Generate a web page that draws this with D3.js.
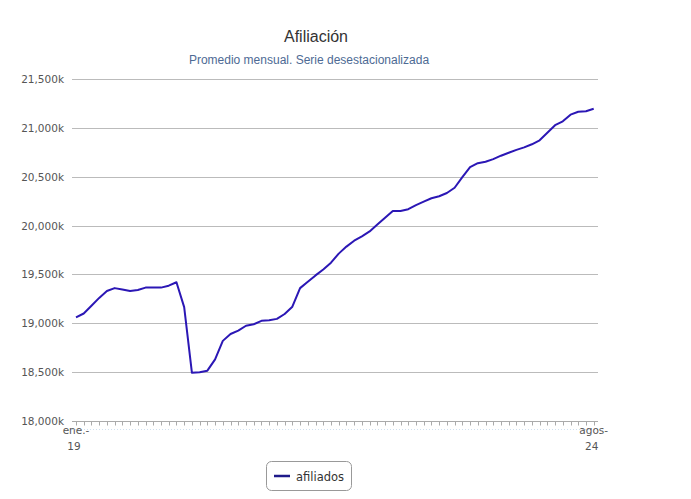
<!DOCTYPE html>
<html><head><meta charset="utf-8">
<script src="https://cdn.jsdelivr.net/npm/d3@7"></script>
<style>body{margin:0;background:#fff}</style>
</head><body><svg id="c" width="691" height="499"></svg>
<script>
const title = "Afiliación";
const subtitle = "Promedio mensual. Serie desestacionalizada";
const seriesName = "afiliados";
const startMonth = [2019, 0];
// thousands, Jan 2019 .. Aug 2024
const afiliados = [
 19060,19100,19180,19260,19330,19360,19345,19330,19340,19365,19365,19365,
 19385,19420,19165,18495,18500,18515,18630,18820,18890,18925,18975,18990,
 19025,19030,19045,19095,19170,19360,19425,19490,19550,19620,19713,19785,
 19845,19890,19940,20010,20080,20150,20150,20168,20210,20245,20280,20300,
 20333,20387,20495,20597,20638,20653,20680,20715,20745,20775,20800,20832,
 20873,20950,21027,21067,21135,21165,21170,21195
];
const yTicks = [18000,18500,19000,19500,20000,20500,21000,21500];
const xLabels = [{i:0, l1:"ene.-", l2:"19"}, {i:afiliados.length-1, l1:"agos-", l2:"24"}];

const svg = d3.select("#c");
const x = d3.scaleLinear().domain([0, afiliados.length-1]).range([76, 593.7]);
const y = d3.scaleLinear().domain([18000, 21500]).range([421, 79]);
const X0 = 72, X1 = 598;

svg.append("text").attr("x",316).attr("y",42).attr("text-anchor","middle")
  .attr("font-family","Liberation Sans, Arial, sans-serif").attr("font-size",16).attr("fill","#333").text(title);
svg.append("text").attr("x",309).attr("y",64).attr("text-anchor","middle")
  .attr("font-family","Liberation Sans, Arial, sans-serif").attr("font-size",12).attr("fill","#4d6a94").text(subtitle);

const fmt = d => d3.format(",")(d) + "k";
const g = svg.append("g");
yTicks.forEach(t => {
  if (t !== 18000) g.append("line").attr("x1",X0).attr("x2",X1).attr("y1",Math.round(y(t))+0.5).attr("y2",Math.round(y(t))+0.5)
    .attr("stroke","#bbb").attr("stroke-width",1);
  g.append("text").attr("x",64).attr("y",y(t)+4).attr("text-anchor","end")
    .attr("font-family","DejaVu Sans, Verdana, sans-serif").attr("font-size",10.5).attr("fill","#555").text(fmt(t));
});
// x axis
const ay = Math.round(y(18000)) + 0.5;
g.append("line").attr("x1",X0).attr("x2",X1).attr("y1",ay).attr("y2",ay).attr("stroke","#aaa");
d3.range(afiliados.length).forEach(i => {
  const xx = Math.round(x(i)) + 0.5;
  g.append("line").attr("x1",xx).attr("x2",xx).attr("y1",ay).attr("y2",ay+4).attr("stroke","#aaa");
});
g.append("line").attr("x1",X0).attr("x2",X1).attr("y1",ay+8).attr("y2",ay+8)
  .attr("stroke","#cfe0f0").attr("stroke-dasharray","1,2");
xLabels.forEach(d => {
  const t = g.append("text").attr("text-anchor","middle")
    .attr("font-family","DejaVu Sans, Verdana, sans-serif").attr("font-size",10.5).attr("fill","#555");
  t.append("tspan").attr("x",x(d.i)).attr("y",434).text(d.l1);
  t.append("tspan").attr("x",x(d.i)-2).attr("y",450).text(d.l2);
});

const line = d3.line().x((d,i)=>x(i)).y(d=>y(d));
svg.append("path").datum(afiliados).attr("d",line).attr("fill","none")
  .attr("stroke","#2b17b5").attr("stroke-width",2).attr("stroke-linejoin","round");

// legend
const lg = svg.append("g");
lg.append("rect").attr("x",266.5).attr("y",461.5).attr("width",85).attr("height",29).attr("rx",5)
  .attr("fill","#fff").attr("stroke","#999");
lg.append("line").attr("x1",274).attr("x2",290).attr("y1",476).attr("y2",476).attr("stroke","#1e1a8a").attr("stroke-width",2.5);
lg.append("text").attr("x",296).attr("y",480.5).attr("font-family","DejaVu Sans, Verdana, sans-serif")
  .attr("font-size",11.5).attr("fill","#333").text(seriesName);
</script></body></html>
